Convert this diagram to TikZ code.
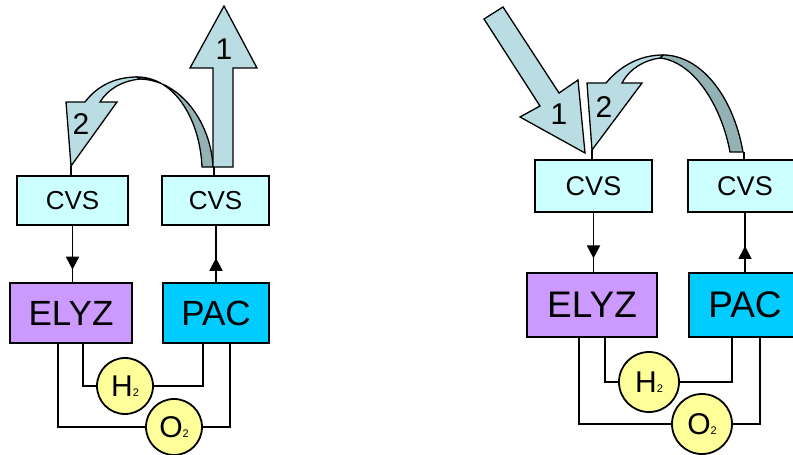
\documentclass[tikz,border=0pt]{standalone}
\usepackage{fontspec}
\setmainfont{Liberation Sans}
\usetikzlibrary{arrows.meta, positioning, calc, decorations.markings}
\definecolor{cvscyan}{RGB}{204,255,255}
\definecolor{elyzpurple}{RGB}{204,153,255}
\definecolor{pacblue}{RGB}{0,204,255}
\definecolor{gasyellow}{RGB}{255,255,153}
\definecolor{flowlight}{RGB}{185,221,226}
\definecolor{flowdark}{RGB}{148,178,180}
\tikzset{
  %% ---- boxes ----
  cvsbox/.style  = {rectangle, draw=black, line width=1.8pt,
                    fill=cvscyan, minimum width=#1, minimum height=49pt,
                    inner sep=0pt, font=\fontsize{26}{26}\selectfont},
  cvsbox/.default = 110pt,
  unitbox/.style = {rectangle, draw=black, line width=2pt,
                    fill=#1, minimum height=60pt,
                    inner sep=0pt, font=\fontsize{35}{35}\selectfont},
  gas/.style     = {circle, draw=black, line width=1.8pt,
                    fill=gasyellow, minimum size=56pt,
                    inner sep=0pt, font=\fontsize{30}{30}\selectfont},
  numlabel/.style = {inner sep=0pt, font=\fontsize{30}{30}\selectfont},
  %% ---- arrows ----
  flow/.style    = {draw=black, line width=1.3pt, fill=#1},
  flow/.default  = flowlight,
  pipe/.style    = {line width=1.8pt},
  midarrow/.style = {line width=1.8pt, postaction={decorate},
                    decoration={markings, mark=at position #1 with
                    {\arrow{Triangle[width=13pt,length=13pt]}}}},
}
\newcommand{\gassub}{\fontsize{11}{11}\selectfont 2}

\begin{document}
\begin{tikzpicture}[x=1pt, y=-1pt]

  \useasboundingbox (0,0) rectangle (793,455);
  \clip (0,0) rectangle (793,455);

  %% Left: discharge
  \node[cvsbox=111pt] (cvsLA) at (72.5,200.5) {CVS};
  \node[cvsbox=107pt] (cvsLB) at (215.5,200.5) {CVS};
  \node[unitbox=elyzpurple, minimum width=122pt] (elyzL) at (71,313) {ELYZ};
  \node[unitbox=pacblue, minimum width=106pt] (pacL) at (216,313) {PAC};
  \node[gas] (h2L) at (125,386) {H\gassub};
  \node[gas] (o2L) at (174,427) {O\gassub};

  \draw[midarrow=0.78] (cvsLA.south) -- (cvsLA.south |- elyzL.north);
  \draw[midarrow=0.43] (pacL.north) -- (pacL.north |- cvsLB.south);

  \draw[pipe] ([xshift=12pt]elyzL.south) |- (h2L.west);
  \draw[pipe] (h2L.east) -| ([xshift=-13pt]pacL.south);
  \draw[pipe] ([xshift=-13pt]elyzL.south) |- (o2L.west);
  \draw[pipe] (o2L.east) -| ([xshift=14pt]pacL.south);

  \coordinate (tipTwoL) at (71,166);
  \coordinate (footL) at (214,167);
  \filldraw[flow=flowdark] (137,77) .. controls (175,77) and (200,120) .. (202,167)
    -- (213,167) .. controls (211,122) and (180,80) .. (140,79) -- cycle;
  \filldraw[flow] (66,102) -- (85,102) .. controls (97,86) and (115,77) .. (137,77)
    -- (140,79) .. controls (122,81) and (108,89) .. (100,102)
    -- (117,102) -- (tipTwoL) -- cycle;
  \filldraw[flow] (213,167) -- (213,68) -- (190,68) -- (224,6)
    -- (257,68) -- (233,68) -- (233,167) -- cycle;
  \node[numlabel] (oneL) at (224,49) {1};
  \node[numlabel] (twoL) at (81,124) {2};
  \draw[pipe] (tipTwoL) -- (tipTwoL |- cvsLA.north);
  \draw[pipe] (footL) -- (footL |- cvsLB.north);

  %% Right: charge
  \node[cvsbox=117pt, minimum height=52pt, font=\fontsize{27}{27}\selectfont]
    (cvsRA) at (593.5,186) {CVS};
  \node[cvsbox=114pt, minimum height=52pt, font=\fontsize{27}{27}\selectfont]
    (cvsRB) at (745,186) {CVS};
  \node[unitbox=elyzpurple, minimum width=130pt, minimum height=64pt,
    font=\fontsize{37}{37}\selectfont] (elyzR) at (592,305) {ELYZ};
  \node[unitbox=pacblue, minimum width=112pt, minimum height=64pt,
    font=\fontsize{37}{37}\selectfont] (pacR) at (745,305) {PAC};
  \node[gas, minimum size=60pt] (h2R) at (649,382) {H\gassub};
  \node[gas, minimum size=60pt] (o2R) at (702,424) {O\gassub};

  \draw[midarrow=0.77] (cvsRA.south) -- (cvsRA.south |- elyzR.north);
  \draw[midarrow=0.44] (pacR.north) -- (pacR.north |- cvsRB.south);

  \draw[pipe] ([xshift=13pt]elyzR.south) |- (h2R.west);
  \draw[pipe] (h2R.east) -| ([xshift=-13pt]pacR.south);
  \draw[pipe] ([xshift=-13pt]elyzR.south) |- (o2R.west);
  \draw[pipe] (o2R.east) -| ([xshift=15pt]pacR.south);

  \coordinate (tipTwoR) at (592,150);
  \coordinate (footR) at (744,152);
  \filldraw[flow=flowdark] (663,55) .. controls (700,55) and (733,95) .. (743,152)
    -- (730,152) .. controls (722,108) and (695,62) .. (660,58) -- cycle;
  \filldraw[flow] (587,83) -- (606,83) .. controls (622,64) and (642,55) .. (663,55)
    -- (660,58) .. controls (645,60) and (630,68) .. (622,83)
    -- (642,83) -- (tipTwoR) -- cycle;
  \filldraw[flow] (484,19) -- (540,106) -- (520,117) -- (585,153)
    -- (578,80) -- (559,93) -- (503,7) -- cycle;
  \node[numlabel] (oneR) at (559,114) {1};
  \node[numlabel] (twoR) at (604,107) {2};
  \draw[pipe] (tipTwoR) -- (tipTwoR |- cvsRA.north);
  \draw[pipe] (footR) -- (footR |- cvsRB.north);

\end{tikzpicture}
\end{document}
